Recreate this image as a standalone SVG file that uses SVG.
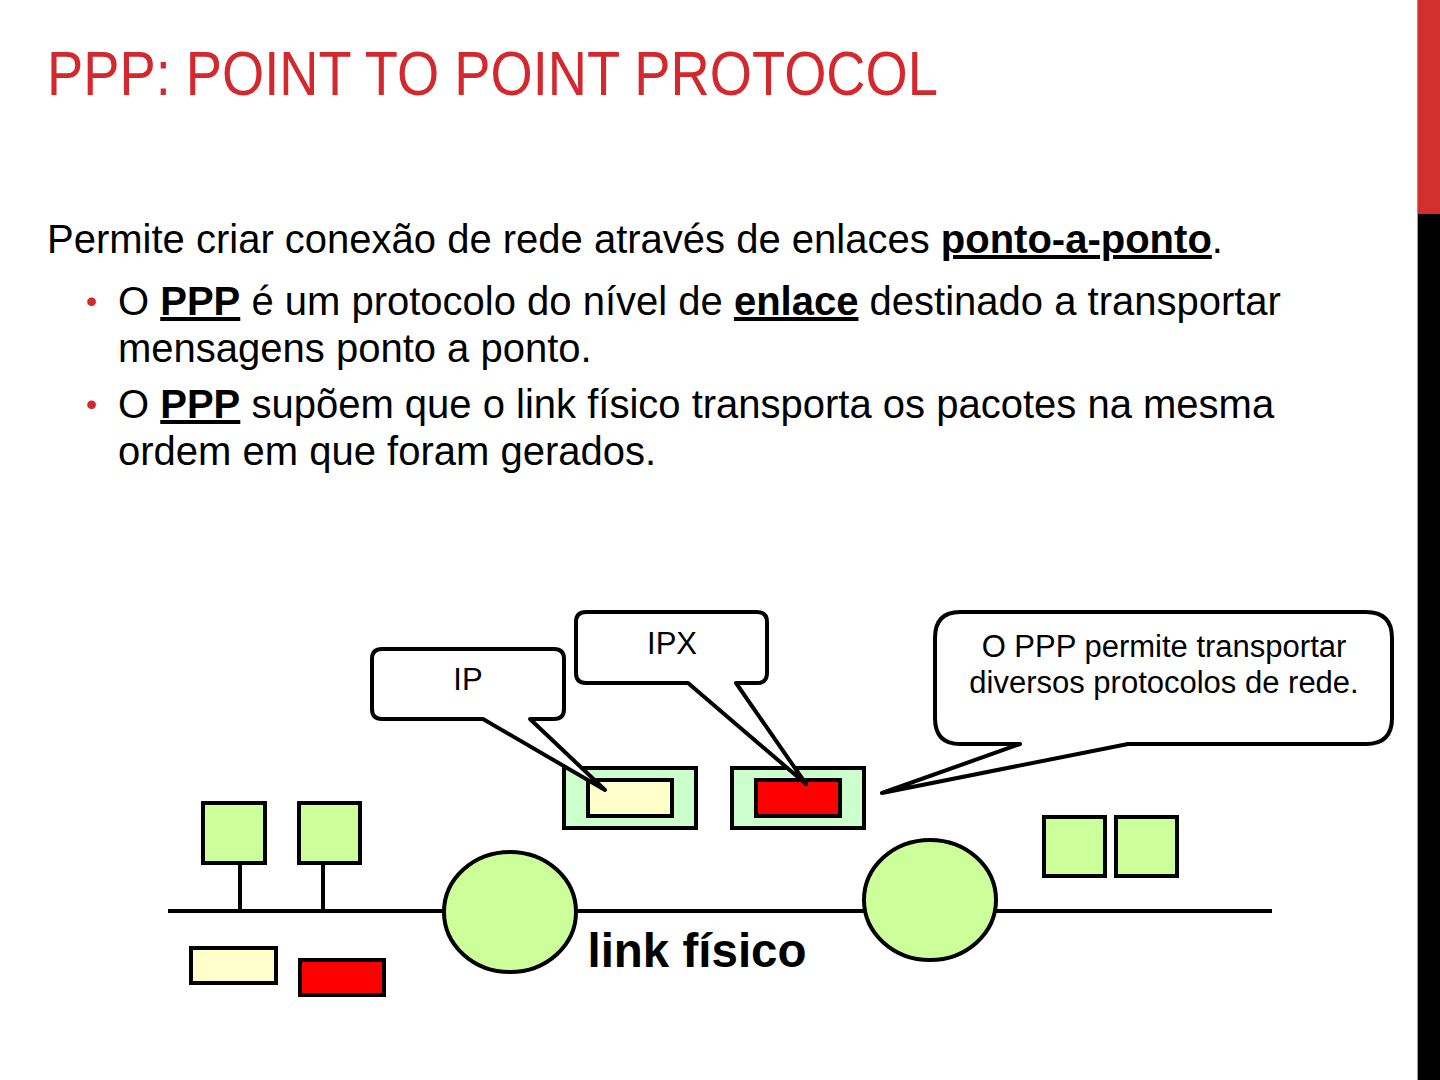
<svg xmlns="http://www.w3.org/2000/svg" width="1440" height="1080" viewBox="0 0 1440 1080">
<style>
.title{font-family:"Liberation Sans Narrow","Liberation Sans",Arial,sans-serif;font-size:63px;fill:#D2282E}
.body{font-family:"Liberation Sans",Arial,sans-serif;font-size:40px;fill:#000}
.b{font-weight:bold;text-decoration:underline}
.bul{font-family:"Liberation Sans",Arial,sans-serif;font-size:32px;fill:#D2282E}
.lbl{font-family:"Liberation Sans",Arial,sans-serif;font-size:31px;fill:#000;text-anchor:middle}
.ln{stroke:#000;stroke-width:4;fill:none}
.g{fill:#CCFF99;stroke:#000;stroke-width:4}
.pg{fill:#CCFFCC;stroke:#000;stroke-width:4}
.y{fill:#FFFFCC;stroke:#000;stroke-width:4}
.r{fill:#FF0000;stroke:#000;stroke-width:4}
.call{fill:#FFFFFF;stroke:#000;stroke-width:4;stroke-linejoin:round}
</style>
<rect x="0" y="0" width="1440" height="1080" fill="#FFFFFF"/>
<rect x="1417" y="0" width="23" height="214" fill="#D32F2F"/>
<rect x="1417" y="214" width="23" height="866" fill="#000000"/>
<line x1="1417.5" y1="0" x2="1417.5" y2="1080" stroke="#999" stroke-width="1"/>
<text class="title" x="47" y="95" textLength="891" lengthAdjust="spacingAndGlyphs">PPP: POINT TO POINT PROTOCOL</text>
<text class="body" x="47" y="253">Permite criar conexão de rede através de enlaces <tspan class="b">ponto-a-ponto</tspan>.</text>
<text class="bul" x="86" y="312">•</text>
<text class="body" x="118" y="315">O <tspan class="b">PPP</tspan> é um protocolo do nível de <tspan class="b">enlace</tspan> destinado a transportar</text>
<text class="body" x="118" y="362">mensagens ponto a ponto.</text>
<text class="bul" x="86" y="415">•</text>
<text class="body" x="118" y="418">O <tspan class="b">PPP</tspan> supõem que o link físico transporta os pacotes na mesma</text>
<text class="body" x="118" y="465">ordem em que foram gerados.</text>
<g id="connectors">
<line class="ln" x1="168" y1="911" x2="1272" y2="911"/>
<line class="ln" x1="240" y1="863" x2="240" y2="911"/>
<line class="ln" x1="323" y1="863" x2="323" y2="911"/>
</g>
<g id="host-left-1"><rect class="g" x="203" y="803" width="62" height="60"/></g>
<g id="host-left-2"><rect class="g" x="299" y="803" width="61" height="60"/></g>
<g id="packet-ip-left"><rect class="y" x="191" y="948" width="85" height="35"/></g>
<g id="packet-ipx-left"><rect class="r" x="300" y="960" width="84" height="35"/></g>
<g id="router-left"><ellipse class="g" cx="510" cy="912" rx="66" ry="60"/></g>
<g id="router-right"><ellipse class="g" cx="930" cy="900" rx="66" ry="60"/></g>
<g id="host-right-1"><rect class="g" x="1044" y="817" width="61" height="59"/></g>
<g id="host-right-2"><rect class="g" x="1116" y="817" width="61" height="59"/></g>
<g id="frame-ip"><rect class="pg" x="564" y="768" width="132" height="60"/><rect class="y" x="588" y="780" width="84" height="36"/></g>
<g id="frame-ipx"><rect class="pg" x="732" y="768" width="132" height="60"/><rect class="r" x="756" y="780" width="84" height="36"/></g>
<text class="lbl" x="697" y="967" style="font-size:47.5px;font-weight:bold">link físico</text>
<g id="callout-ip">
<path class="call" d="M382,649 H554 Q564,649 564,659 V709 Q564,719 554,719 H530 L605,790 L483,719 H382 Q372,719 372,709 V659 Q372,649 382,649 Z"/>
<text class="lbl" x="468" y="690">IP</text>
</g>
<g id="callout-ipx">
<path class="call" d="M586,612 H757 Q767,612 767,622 V673 Q767,683 757,683 H736 L806,784 L688,683 H586 Q576,683 576,673 V622 Q576,612 586,612 Z"/>
<text class="lbl" x="672" y="654">IPX</text>
</g>
<g id="callout-ppp">
<path class="call" d="M960,612 H1366 Q1392,612 1392,638 V718 Q1392,744 1366,744 H1128 L882,793 L1020,744 H960 Q935,744 935,718 V638 Q935,612 960,612 Z"/>
<text class="lbl" x="1164" y="657">O PPP permite transportar</text>
<text class="lbl" x="1164" y="693">diversos protocolos de rede.</text>
</g>
</svg>
